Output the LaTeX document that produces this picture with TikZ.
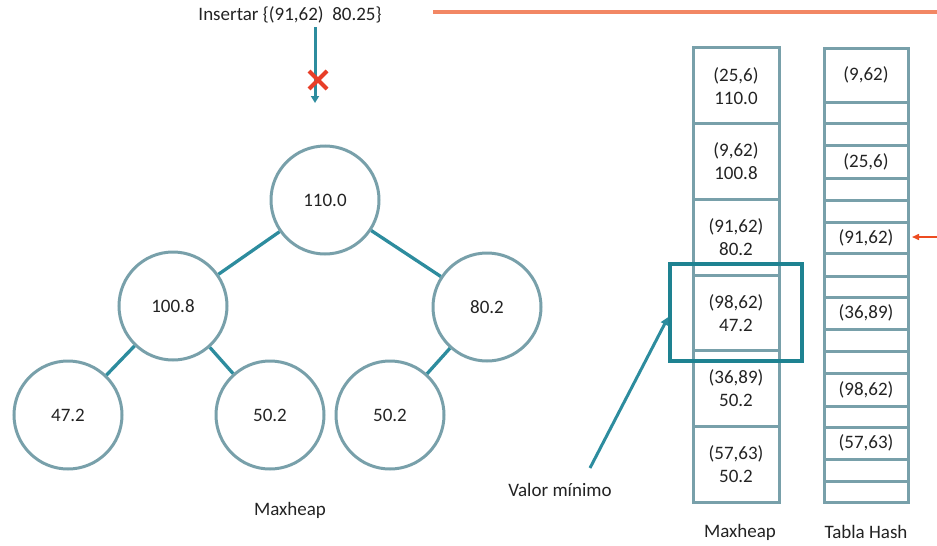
\documentclass[tikz,border=0pt]{standalone}
\usepackage{fontspec}
\setmainfont{Carlito}
\usetikzlibrary{arrows.meta,calc}
\definecolor{circ}{RGB}{120,160,170}
\definecolor{edge}{RGB}{45,140,158}
\definecolor{hl}{RGB}{30,130,145}
\definecolor{orng}{RGB}{242,135,100}
\definecolor{redx}{RGB}{232,62,40}
\definecolor{txt}{RGB}{35,35,35}
\tikzset{
  heapnode/.style={circle,draw=circ,line width=3pt,minimum size=108pt,inner sep=0pt,font=\fontsize{19}{22}\selectfont,text=txt},
  treeedge/.style={draw=edge,line width=3.3pt},
  cell/.style={draw=circ,line width=3pt,minimum width=86pt,minimum height=75.7pt,inner sep=0pt,align=center,font=\fontsize{19}{23}\selectfont,text=txt},
  celltxt/.style={font=\fontsize{19}{22}\selectfont,text=txt},
  lbl/.style={font=\fontsize{19}{22}\selectfont,text=txt}
}
\begin{document}
\begin{tikzpicture}[x=1pt,y=-1pt]
\useasboundingbox (0,0) rectangle (937,546);
% tree
\node[heapnode] (r) at (325,200) {110.0};
\node[heapnode] (a) at (173,306) {100.8};
\node[heapnode] (b) at (487,307) {80.2};
\node[heapnode] (aa) at (68,415) {47.2};
\node[heapnode] (ab) at (270,415) {50.2};
\node[heapnode] (ba) at (390,415) {50.2};
\draw[treeedge] (r) -- (a);
\draw[treeedge] (r) -- (b);
\draw[treeedge] (a) -- (aa);
\draw[treeedge] (a) -- (ab);
\draw[treeedge] (b) -- (ba);
\node[lbl] (tl) at (290,510) {Maxheap};
% insert
\node[lbl] (ins) at (290,15) {Insertar \{(91,62)\ \ 80.25\}};
\coordinate (insA) at (315,27);
\coordinate (insB) at (315,103);
\draw[draw=edge,line width=3pt,-{Triangle[length=7pt,width=8pt]}] (insA) -- (insB);
\coordinate (xc) at (318,80);
\draw[redx,line width=4pt] ($(xc)+(-9,-9)$) -- ($(xc)+(9,9)$) ($(xc)+(-9,9)$) -- ($(xc)+(9,-9)$);
\coordinate (oA) at (433,12);
\coordinate (oB) at (937,12);
\draw[orng,line width=3.5pt] (oA) -- (oB);
% maxheap column
\node[cell] (m1) at (736,85.8) {(25,6)\\110.0};
\node[cell] (m2) at (736,161.5) {(9,62)\\100.8};
\node[cell] (m3) at (736,237.2) {(91,62)\\80.2};
\node[cell] (m4) at (736,312.9) {(98,62)\\47.2};
\node[cell] (m5) at (736,388.6) {(36,89)\\50.2};
\node[cell] (m6) at (736,464.3) {(57,63)\\50.2};
\node[lbl] (ml) at (740,532) {Maxheap};
% hash table
\draw[circ,line width=3pt] (824,48) rectangle (908,502);
\foreach \yy in {102,123,145,178,200,222,253,276,297,329,351,373,406,427,459,481}
  \draw[circ,line width=3pt] (824,\yy) -- (908,\yy);
\node[celltxt] (h1) at (866,75) {(9,62)};
\node[celltxt] (h2) at (866,161.5) {(25,6)};
\node[celltxt] (h3) at (866,237.5) {(91,62)};
\node[celltxt] (h4) at (866,313) {(36,89)};
\node[celltxt] (h5) at (866,389.5) {(98,62)};
\node[celltxt] (h6) at (866,443) {(57,63)};
\node[lbl] (hl) at (866,532) {Tabla Hash};
\coordinate (rA) at (937,237);
\coordinate (rB) at (912,237);
\draw[redx!80!orange,line width=1.5pt,-{Triangle[length=7pt,width=6pt]}] (rA) -- (rB);
% highlight
\node[draw=hl,line width=3.5pt,minimum width=132pt,minimum height=97pt,inner sep=0pt] (hb) at (736,312.5) {};
\node[lbl] (vm) at (560,490) {Valor mínimo};
\coordinate (vA) at (590,468);
\draw[draw=edge,line width=3pt,-{Triangle[length=8pt,width=8pt]}] (vA) -- (hb.west |- 0,317);
\end{tikzpicture}
\end{document}
